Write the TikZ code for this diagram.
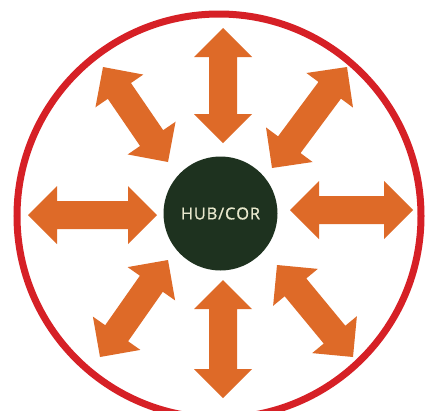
\documentclass[tikz,border=0pt]{standalone}
\usepackage{fontspec}
\setmainfont{Open Sans}
\newfontfamily\hubfont[FakeBold=0.9]{Open Sans}
\usetikzlibrary{calc}
\definecolor{arrowor}{RGB}{222,106,40}
\definecolor{ringred}{RGB}{214,32,38}
\definecolor{hubgreen}{RGB}{30,50,31}
\definecolor{hubtext}{RGB}{232,232,205}
\newcommand{\dblarrow}[2]{%
  \fill[arrowor]
    (#1) -- ($($(#1)!29pt!(#2)$)!29pt!90:(#2)$)
         -- ($($(#1)!29pt!(#2)$)!14pt!90:(#2)$)
         -- ($($(#2)!29pt!(#1)$)!14pt!-90:(#1)$)
         -- ($($(#2)!29pt!(#1)$)!29pt!-90:(#1)$)
         -- (#2)
         -- ($($(#2)!29pt!(#1)$)!29pt!90:(#1)$)
         -- ($($(#2)!29pt!(#1)$)!14pt!90:(#1)$)
         -- ($($(#1)!29pt!(#2)$)!14pt!-90:(#2)$)
         -- ($($(#1)!29pt!(#2)$)!29pt!-90:(#2)$)
         -- cycle;}
\newcommand{\ls}{\kern0.8pt}
\begin{document}
\begin{tikzpicture}[x=1pt,y=-1pt]
\useasboundingbox (0,0) rectangle (428,410);
\fill[white] (0,0) rectangle (428,410);
\node[circle,draw=ringred,line width=7pt,minimum size=404pt,inner sep=0pt] (ring) at (219,216) {};
\node[circle,fill=hubgreen,minimum size=114pt,inner sep=0pt,text=hubtext,font=\hubfont\fontsize{16.5}{18}\selectfont] (hub) at (220.5,213.5) {H\ls U\ls B\ls /\ls C\ls O\ls R};
% arrow end points
\coordinate (topO) at (223,28);  \coordinate (topI) at (223,143);
\coordinate (botI) at (223,280); \coordinate (botO) at (223,398);
\coordinate (lftO) at (28,215);  \coordinate (lftI) at (157,215);
\coordinate (rgtI) at (290,210); \coordinate (rgtO) at (413,210);
\coordinate (ulO) at (103,67);   \coordinate (ulI) at (168,162);
\coordinate (urO) at (347,67);   \coordinate (urI) at (272,168);
\coordinate (llI) at (168,260);  \coordinate (llO) at (100,357);
\coordinate (lrI) at (277,265);  \coordinate (lrO) at (353,357);
\dblarrow{topO}{topI}
\dblarrow{botI}{botO}
\dblarrow{lftO}{lftI}
\dblarrow{rgtI}{rgtO}
\dblarrow{ulO}{ulI}
\dblarrow{urO}{urI}
\dblarrow{llI}{llO}
\dblarrow{lrI}{lrO}
\end{tikzpicture}
\end{document}
